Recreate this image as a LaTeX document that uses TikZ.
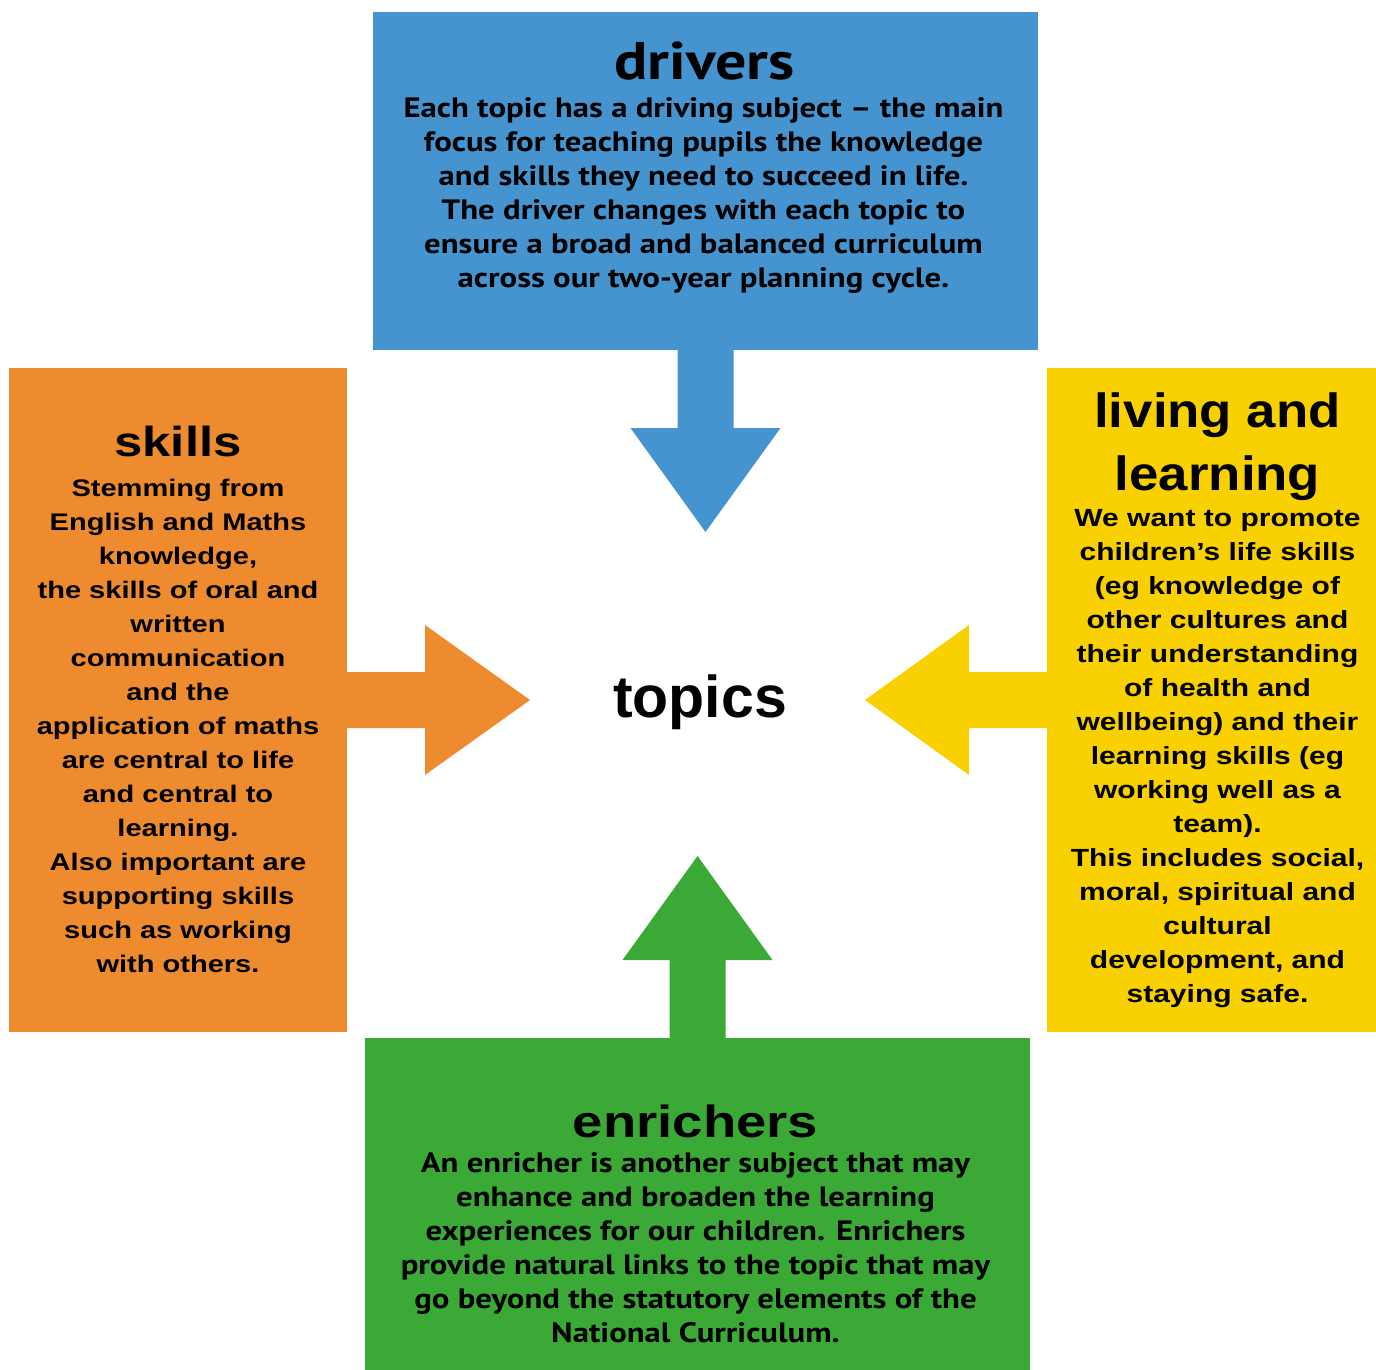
\documentclass[tikz,border=0pt]{standalone}
\usepackage{fontspec}
\setmainfont{Liberation Sans}
\newfontfamily\widefont[FakeStretch=1.21]{Liberation Sans Bold}
\newfontfamily\titlefont[FakeStretch=1.1]{Liberation Sans Bold}
\newfontfamily\narrowfont[FakeStretch=1.17]{PT Sans Bold}
\usetikzlibrary{calc}
\definecolor{driverblue}{HTML}{4593CF}
\definecolor{skillorange}{HTML}{EE8B2F}
\definecolor{livingyellow}{HTML}{F9D000}
\definecolor{enrichgreen}{HTML}{3AA936}

\begin{document}
\begin{tikzpicture}[x=0.5pt,y=-0.5pt,
    box/.style={inner sep=0pt,outer sep=0pt,anchor=north west},
    boxtext/.style={inner sep=0pt,anchor=north,align=center}]
        \useasboundingbox (0,0) rectangle (1376,1370);
        % Draw the four boxes
        \node[box,fill=driverblue,minimum width=332.5pt,minimum height=169pt] (drivers) at (373,12) {};
        \node[box,fill=skillorange,minimum width=169pt,minimum height=332pt] (skills) at (9,368) {};
        \node[box,fill=livingyellow,minimum width=164.5pt,minimum height=332pt] (living) at (1047,368) {};
        \node[box,fill=enrichgreen,minimum width=332.5pt,minimum height=166pt] (enrichers) at (365,1038) {};
        % Draw the block arrows
        \fill[driverblue,shift={(drivers.south)}] (-28,0) -- (-28,78) -- (-75,78) -- (0,182) -- (75,78) -- (28,78) -- (28,0) -- cycle;
        \fill[skillorange,shift={(skills.east)}] (0,-28) -- (78,-28) -- (78,-75) -- (183,0) -- (78,75) -- (78,28) -- (0,28) -- cycle;
        \fill[livingyellow,shift={(living.west)}] (0,-28) -- (-78,-28) -- (-78,-75) -- (-182,0) -- (-78,75) -- (-78,28) -- (0,28) -- cycle;
        \fill[enrichgreen,shift={(enrichers.north)}] (-28,0) -- (-28,-78) -- (-75,-78) -- (0,-182) -- (75,-78) -- (28,-78) -- (28,0) -- cycle;
        % Centre word
        \node[font=\bfseries\fontsize{29.5}{34}\selectfont] (topics) at (700,702) {topics};
        % Text of the drivers box
        \node[boxtext,font=\narrowfont\fontsize{26.5}{30}\selectfont] (driverstitle) at ($(drivers.north)+(-1,29)$) {drivers};
        \node[boxtext,font=\narrowfont\fontsize{14}{17}\selectfont] (driverstext) at ($(drivers.north)+(-2,85)$)
            {Each topic has a driving subject – the main\\focus for teaching pupils the knowledge\\and skills they need to succeed in life.\\The driver changes with each topic to\\ensure a broad and balanced curriculum\\across our two-year planning cycle.};
        % Text of the skills box
        \node[boxtext,font=\widefont\fontsize{21}{30}\selectfont] (skillstitle) at ($(skills.north)+(0,58)$) {skills};
        \node[boxtext,font=\widefont\fontsize{12}{17}\selectfont] (skillstext) at ($(skills.north)+(0,111)$)
            {Stemming from\\English and Maths\\knowledge,\\the skills of oral and\\written\\communication\\and the\\application of maths\\are central to life\\and central to\\learning.\\Also important are\\supporting skills\\such as working\\with others.};
        % Text of the living and learning box
        \node[boxtext,font=\titlefont\fontsize{24}{31.5}\selectfont] (livingtitle) at ($(living.north)+(6,24)$) {living and\\learning};
        \node[boxtext,font=\widefont\fontsize{12.4}{17}\selectfont] (livingtext) at ($(living.north)+(6,141)$)
            {We want to promote\\children’s life skills\\(eg knowledge of\\other cultures and\\their understanding\\of health and\\wellbeing) and their\\learning skills (eg\\working well as a\\team).\\This includes social,\\moral, spiritual and\\cultural\\development, and\\staying safe.};
        % Text of the enrichers box
        \node[boxtext,font=\widefont\fontsize{22.5}{30}\selectfont] (enricherstitle) at ($(enrichers.north)+(-2,66)$) {enrichers};
        \node[boxtext,font=\narrowfont\fontsize{14}{17}\selectfont] (enricherstext) at ($(enrichers.north)+(-2,114)$)
            {An enricher is another subject that may\\enhance and broaden the learning\\experiences for our children. Enrichers\\provide natural links to the topic that may\\go beyond the statutory elements of the\\National Curriculum.};
\end{tikzpicture}
\end{document}
